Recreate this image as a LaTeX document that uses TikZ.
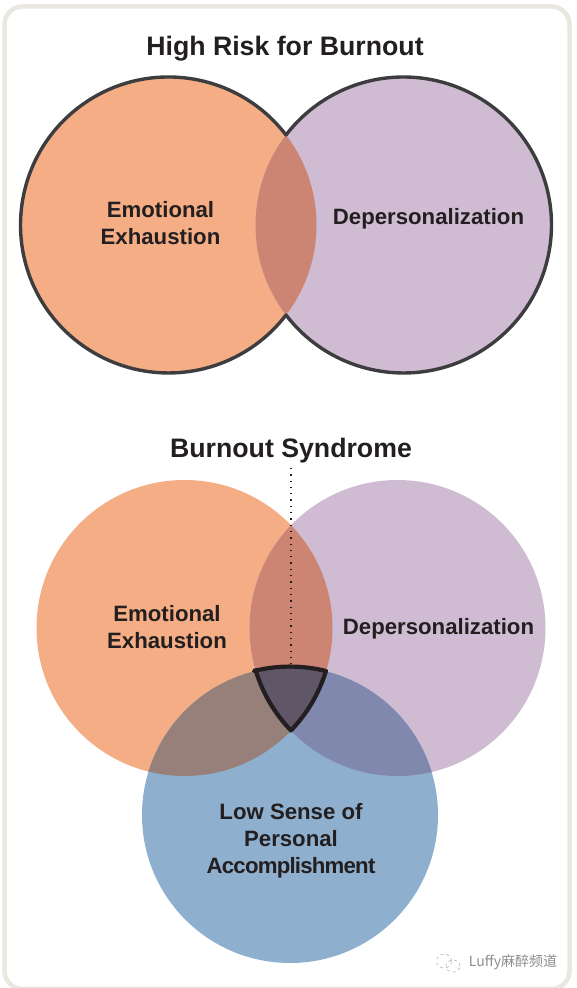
\documentclass[tikz,border=0pt]{standalone}
\usepackage{fontspec}
\setmainfont{Liberation Sans}
\newfontfamily\cjkfont{Noto Sans CJK SC}
\usetikzlibrary{positioning}
\definecolor{burnoutOrange}{RGB}{244, 173, 132}
\definecolor{burnoutPurple}{RGB}{207, 188, 211}
\definecolor{burnoutBlue}{RGB}{143, 175, 206}
\definecolor{burnoutOverlap}{RGB}{204, 133, 115}
\definecolor{burnoutBrown}{RGB}{152, 128, 122}
\definecolor{burnoutSlate}{RGB}{128, 136, 174}
\definecolor{burnoutCore}{RGB}{95, 86, 103}
\definecolor{burnoutInk}{RGB}{35, 31, 32}
\definecolor{burnoutRing}{RGB}{61, 60, 62}
\definecolor{burnoutFrame}{RGB}{233, 231, 224}

\begin{document}
\begin{tikzpicture}[
  x=1pt,y=1pt,
  disc/.style={
    circle,
    inner sep=0pt,
    minimum size=296pt
  },
  heading/.style={font=\bfseries\fontsize{26.7}{30}\selectfont,text=burnoutInk},
  caption/.style={
    font=\bfseries\fontsize{22.2}{27}\selectfont,
    text=burnoutInk,
    align=center
  }
]
  \useasboundingbox (0,0) rectangle (576,988);
  \draw[burnoutFrame,line width=4.5pt,rounded corners=18pt]
    (4.5,-1) rectangle (569.5,981.5);

  % upper pair
  \node[heading] (riskTitle) at (285,939) {High Risk for Burnout};
  \node[disc,fill=burnoutOrange] (riskLeft) at (168.5,763) {};
  \node[disc,fill=burnoutPurple] (riskRight) at (403.5,763) {};
  \begin{scope}
    \clip (riskLeft.center) circle (148pt);
    \fill[burnoutOverlap] (riskRight.center) circle (148pt);
  \end{scope}
  \coordinate (riskTop) at (286,853);
  \draw[burnoutRing,line width=3.4pt,line join=round] (riskTop)
    arc[start angle=37.45,end angle=322.55,radius=148pt]
    arc[start angle=-142.55,end angle=142.55,radius=148pt] -- cycle;
  \node[caption] (riskExhaustion) at (160.5,764.5) {Emotional\\Exhaustion};
  \node[caption] (riskDepersonal) at (428.5,769) {Depersonalization};

  % lower triple
  \node[heading] (syndromeTitle) at (291,537) {Burnout Syndrome};
  \node[disc,fill=burnoutOrange] (synLeft) at (184.5,360) {};
  \node[disc,fill=burnoutPurple] (synRight) at (397.5,360) {};
  \node[disc,fill=burnoutBlue] (synLow) at (290,173) {};
  \begin{scope}
    \clip (synLeft.center) circle (148pt);
    \fill[burnoutOverlap] (synRight.center) circle (148pt);
    \fill[burnoutBrown] (synLow.center) circle (148pt);
  \end{scope}
  \begin{scope}
    \clip (synRight.center) circle (148pt);
    \fill[burnoutSlate] (synLow.center) circle (148pt);
  \end{scope}
  \coordinate (coreLeft) at (254,317);
  \draw[burnoutInk,fill=burnoutCore,line width=4.2pt,line join=round] (coreLeft)
    arc[start angle=104.04,end angle=75.9,radius=148pt]
    arc[start angle=-17.05,end angle=-44,radius=148pt]
    arc[start angle=224,end angle=196.7,radius=148pt] -- cycle;
  \coordinate (dotTop) at (291,520);
  \coordinate (dotEnd) at (291,324);
  \draw[burnoutInk,line width=1.3pt,dash pattern=on 1.3pt off 5pt] (dotTop) -- (dotEnd);
  \node[caption] (synExhaustion) at (167,360.5) {Emotional\\Exhaustion};
  \node[caption] (synDepersonal) at (438.5,359) {Depersonalization};
  \node[caption] (synAccomplish) at (291,147.5)
    {Low Sense of\\Personal\\{\addfontfeatures{LetterSpace=-3.5}Accomplishment}};

  % mark
  \node[font=\cjkfont\fontsize{14}{16}\selectfont,text=black!45] (markText) at (513,26)
    {Luffy麻醉频道};
  \draw[black!30,line width=.6pt,dashed] (444,27) ellipse (7.5pt and 7pt);
  \draw[black!30,line width=.6pt,dashed] (453,22) ellipse (7pt and 6pt);
\end{tikzpicture}
\end{document}
